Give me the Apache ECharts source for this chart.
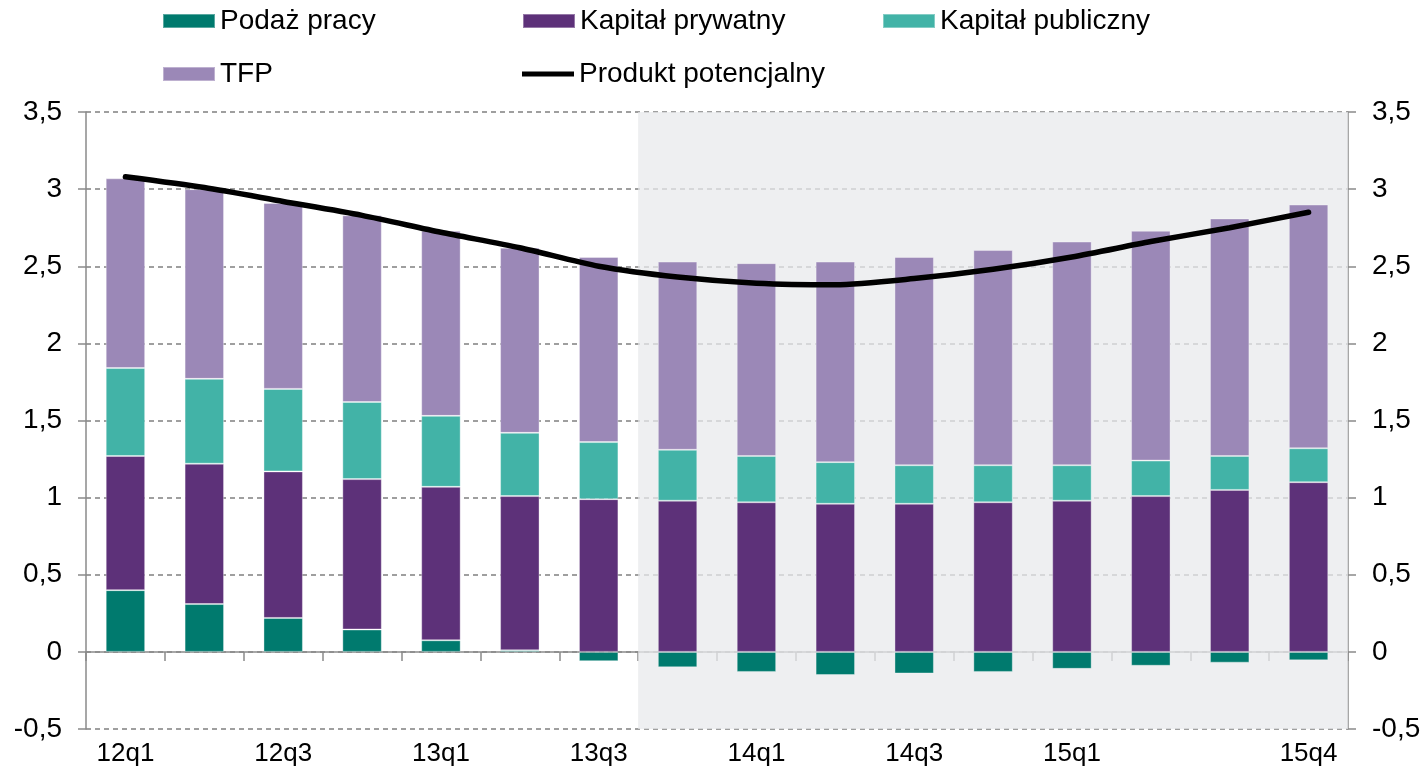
<!DOCTYPE html>
<html>
<head>
<meta charset="utf-8">
<script src="https://cdn.jsdelivr.net/npm/echarts@6/dist/echarts.min.js"></script>
<style>
  html, body { margin: 0; padding: 0; background: #fff; }
  #chart { width: 1428px; height: 770px; }
</style>
</head>
<body>
<div id="chart"></div>
<script>
// quarters
const categories = ['12q1','12q2','12q3','12q4','13q1','13q2','13q3','13q4',
                    '14q1','14q2','14q3','14q4','15q1','15q2','15q3','15q4'];
// only some quarters get a label under the axis
const xLabels = ['12q1','','12q3','','13q1','','13q3','',
                 '14q1','','14q3','','15q1','','','15q4'];
const yTicks = { min: -0.5, max: 3.5, step: 0.5 };

// contributions (pp)
const podazPracy =        [0.40, 0.31, 0.22, 0.145, 0.075, 0.01, -0.06, -0.10, -0.13, -0.15, -0.14, -0.13, -0.11, -0.09, -0.07, -0.055];
const kapitalPrywatny =   [0.87, 0.91, 0.95, 0.975, 0.995, 1.00, 0.99, 0.98, 0.97, 0.96, 0.96, 0.97, 0.98, 1.01, 1.05, 1.10];
const kapitalPubliczny =  [0.57, 0.55, 0.535, 0.50, 0.46, 0.41, 0.37, 0.33, 0.30, 0.27, 0.25, 0.24, 0.23, 0.23, 0.22, 0.22];
const tfp =               [1.23, 1.23, 1.205, 1.21, 1.20, 1.20, 1.20, 1.22, 1.25, 1.30, 1.35, 1.395, 1.45, 1.49, 1.54, 1.58];
const produktPotencjalny = [3.08, 3.01, 2.92, 2.83, 2.72, 2.62, 2.50, 2.43, 2.39, 2.38, 2.42, 2.48, 2.56, 2.66, 2.75, 2.85];

// forecast part is shaded
const shadeFrom = categories.indexOf('13q4');

const font = '"Liberation Sans", Arial, sans-serif';
const axisGray = '#8a8a8a';

const chart = echarts.init(document.getElementById('chart'));

const yAxisBase = {
  type: 'value',
  min: yTicks.min,
  max: yTicks.max,
  interval: yTicks.step,
  axisLine: { show: true, lineStyle: { color: axisGray, width: 1.5 } },
  axisTick: { show: true, length: 8, lineStyle: { color: axisGray, width: 1.5 } },
  axisLabel: {
    color: '#000', fontFamily: font, fontSize: 28, margin: 24,
    formatter: v => String(Math.round(v * 10) / 10).replace('.', ',')
  }
};

const legendBase = {
  left: 162,
  padding: 0,
  itemWidth: 52,
  itemHeight: 14,
  itemGap: 0,
  icon: 'rect',
  textStyle: { fontFamily: font, fontSize: 28, color: '#000', width: 302, lineHeight: 30, padding: [0, 0, 0, 0] },
  selectedMode: false
};

const barSeries = (name, data, color) => ({
  name, type: 'bar', stack: 'total', data,
  barWidth: '50%',
  z: 3,
  itemStyle: { color, borderColor: 'rgba(255,255,255,0.35)', borderWidth: 1 }
});

const option = {
  animation: false,
  backgroundColor: '#fff',
  grid: { left: 86, right: 80, top: 112, bottom: 41, containLabel: false },
  legend: [
    Object.assign({}, legendBase, { top: 6, data: ['Podaż pracy', 'Kapitał prywatny', 'Kapitał publiczny'] }),
    Object.assign({}, legendBase, { top: 59, data: [
      { name: 'TFP' },
      { name: 'Produkt potencjalny', icon: 'path://M0,0 L52,0 L52,5 L0,5 Z' }
    ] })
  ],
  xAxis: [
    {
      type: 'category', data: categories, position: 'bottom',
      axisLine: { show: false, onZero: false },
      axisTick: { show: false },
      axisLabel: {
        interval: 0, color: '#000', fontFamily: font, fontSize: 26, margin: 12,
        formatter: (v, i) => xLabels[i]
      }
    },
    {
      type: 'category', data: categories, position: 'top',
      axisLine: { show: true, onZero: true, onZeroAxisIndex: 0, lineStyle: { color: axisGray, width: 1.5 } },
      axisTick: { show: true, inside: true, length: 9, lineStyle: { color: axisGray, width: 1.5 } },
      axisLabel: { show: false }
    },
    {
      type: 'value', min: 0, max: categories.length, show: false
    }
  ],
  yAxis: [
    Object.assign({}, yAxisBase, {
      position: 'left',
      splitLine: { show: true, lineStyle: { color: '#808080', type: [5, 4], width: 1.5 } }
    }),
    Object.assign({}, yAxisBase, { position: 'right', splitLine: { show: false } })
  ],
  series: [
    {
      name: 'prognoza', type: 'line', xAxisIndex: 2, data: [], z: 1, silent: true,
      markArea: {
        silent: true,
        itemStyle: { color: 'rgba(232,233,236,0.75)' },
        data: [[{ xAxis: shadeFrom }, { xAxis: categories.length }]]
      }
    },
    barSeries('Podaż pracy', podazPracy, '#007A6E'),
    barSeries('Kapitał prywatny', kapitalPrywatny, '#5D3179'),
    barSeries('Kapitał publiczny', kapitalPubliczny, '#42B3A7'),
    barSeries('TFP', tfp, '#9B88B7'),
    {
      name: 'Produkt potencjalny', type: 'line', data: produktPotencjalny,
      smooth: 0.25, symbol: 'none', z: 5,
      itemStyle: { color: '#000' },
      lineStyle: { color: '#000', width: 5.5, cap: 'round' }
    }
  ]
};

chart.setOption(option);
</script>
</body>
</html>
